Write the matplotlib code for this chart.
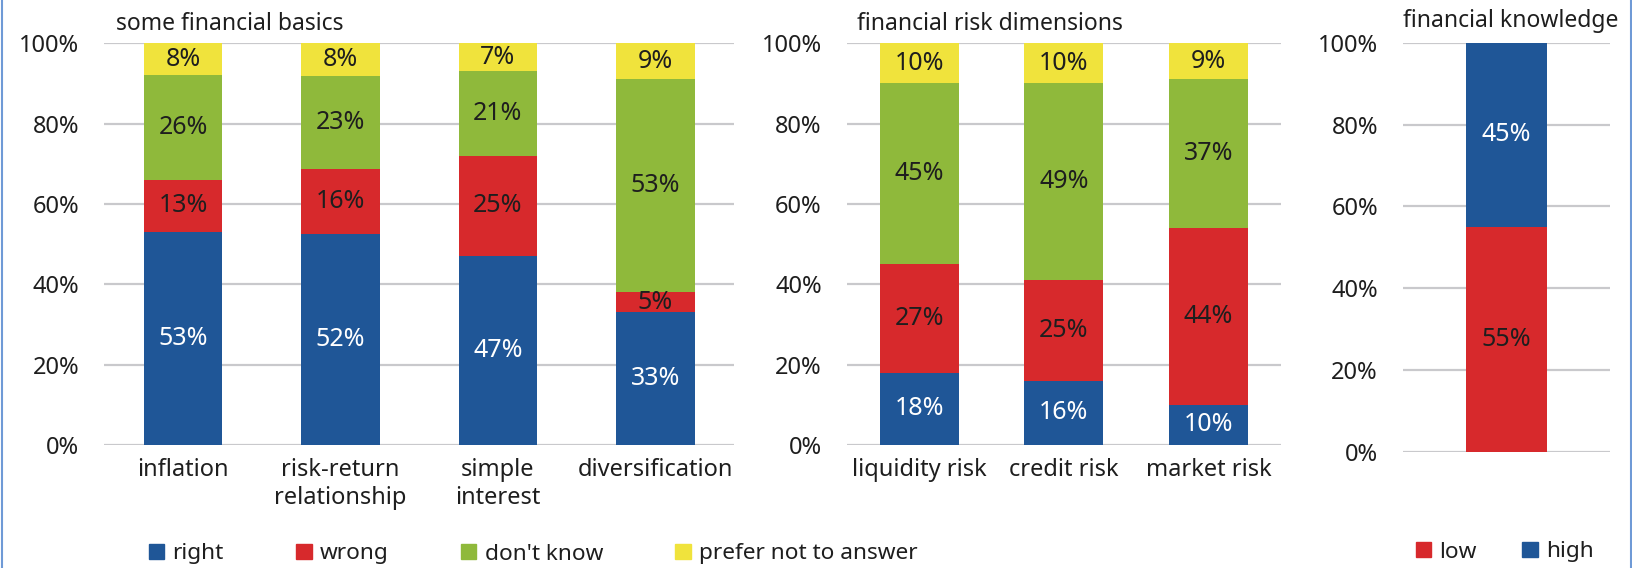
import numpy as np
import matplotlib.pyplot as plt
from matplotlib.patches import Patch
from matplotlib.lines import Line2D

plt.rcParams['font.family'] = ['Noto Sans', 'DejaVu Sans']

# some financial basics
basics_labels = ['inflation', 'risk-return\nrelationship', 'simple\ninterest', 'diversification']
basics_right = [53, 52, 47, 33]
basics_wrong = [13, 16, 25, 5]
basics_dontknow = [26, 23, 21, 53]
basics_prefer = [8, 8, 7, 9]

# financial risk dimensions
risk_labels = ['liquidity risk', 'credit risk', 'market risk']
risk_right = [18, 16, 10]
risk_wrong = [27, 25, 44]
risk_dontknow = [45, 49, 37]
risk_prefer = [10, 10, 9]

# financial knowledge
knowledge_low = [55]
knowledge_high = [45]

BLUE = '#1F5697'
RED = '#D7292C'
GREEN = '#8FB93B'
YELLOW = '#F0E33C'
GRID = '#C9C9CC'
TEXT = '#1E1E1E'


def StackedBars(ax, series, colors, labelcolors, width, xlim):
    n = len(series[0])
    x = np.arange(n)
    totals = np.sum(series, axis=0)
    bottom = np.zeros(n)
    for vals, col, tcol in zip(series, colors, labelcolors):
        h = np.array(vals) / totals * 100
        ax.bar(x, h, width, bottom=bottom, color=col, edgecolor='none', zorder=3)
        for xi, b, hi, v in zip(x, bottom, h, vals):
            ax.text(xi, b + hi / 2, f'{v}%', ha='center', va='center',
                    fontsize=18, color=tcol, zorder=4)
        bottom += h
    ax.set_xlim(*xlim)
    ax.set_ylim(0, 100)
    ax.set_yticks(range(0, 101, 20))
    ax.set_yticklabels([f'{v}%' for v in range(0, 101, 20)], fontsize=17, color=TEXT)
    ax.yaxis.grid(True, color=GRID, lw=1.6, zorder=0)
    ax.set_axisbelow(True)
    for s in ax.spines.values():
        s.set_visible(False)
    ax.tick_params(axis='both', length=0)
    ax.tick_params(axis='y', pad=18)
    ax.tick_params(axis='x', pad=9)
    return x


fig = plt.figure(figsize=(16.33, 5.68), dpi=100)
H = 568.0
W = 1633.0

ax1 = fig.add_axes([104.3 / W, (H - 445) / H, 629.7 / W, 401.7 / H])
ax2 = fig.add_axes([846.7 / W, (H - 445) / H, 434.3 / W, 401.7 / H])
ax3 = fig.add_axes([1403 / W, (H - 451.7) / H, 207 / W, 409 / H])

four = [BLUE, RED, GREEN, YELLOW]
four_text = ['white', TEXT, TEXT, TEXT]

x1 = StackedBars(ax1, [basics_right, basics_wrong, basics_dontknow, basics_prefer],
                 four, four_text, 0.5, (-0.5, 3.5))
ax1.set_xticks(x1)
ax1.set_xticklabels(basics_labels, fontsize=17, color=TEXT, linespacing=1.25, va='top')

x2 = StackedBars(ax2, [risk_right, risk_wrong, risk_dontknow, risk_prefer],
                 four, four_text, 0.545, (-0.5, 2.5))
ax2.set_xticks(x2)
ax2.set_xticklabels(risk_labels, fontsize=17, color=TEXT)

StackedBars(ax3, [knowledge_low, knowledge_high], [RED, BLUE], [TEXT, 'white'],
            0.39, (-0.5, 0.5))
ax3.set_xticks([])

# panel titles
fig.text(116 / W, 1 - 30.5 / H, 'some financial basics', fontsize=16.5, color=TEXT, va='baseline')
fig.text(857 / W, 1 - 30.5 / H, 'financial risk dimensions', fontsize=16.5, color=TEXT, va='baseline')
fig.text(1403 / W, 1 - 27 / H, 'financial knowledge', fontsize=16.5, color=TEXT, va='baseline')

# legends
h1 = [Patch(color=c) for c in four]
fig.legend(h1, ['right', 'wrong', "don't know", 'prefer not to answer'],
           loc='center left', bbox_to_anchor=(149 / W, 1 - 554 / H), ncol=4,
           frameon=False, fontsize=16.3, handlelength=0.68, handleheight=0.68,
           handletextpad=0.36, columnspacing=3.2, borderpad=0, borderaxespad=0,
           labelcolor=TEXT)
h3 = [Patch(color=RED), Patch(color=BLUE)]
fig.legend(h3, ['low', 'high'],
           loc='center left', bbox_to_anchor=(1416 / W, 1 - 552 / H), ncol=2,
           frameon=False, fontsize=16.3, handlelength=0.68, handleheight=0.68,
           handletextpad=0.36, columnspacing=2.0, borderpad=0, borderaxespad=0,
           labelcolor=TEXT)

# thin frame lines on the left and right edges
fig.add_artist(Line2D([2 / W, 2 / W], [0, 1], transform=fig.transFigure, color='#6F9AD6', lw=1.5))
fig.add_artist(Line2D([1631 / W, 1631 / W], [0, 1], transform=fig.transFigure, color='#6F9AD6', lw=1.5))

fig.savefig('out.png', dpi=100)
